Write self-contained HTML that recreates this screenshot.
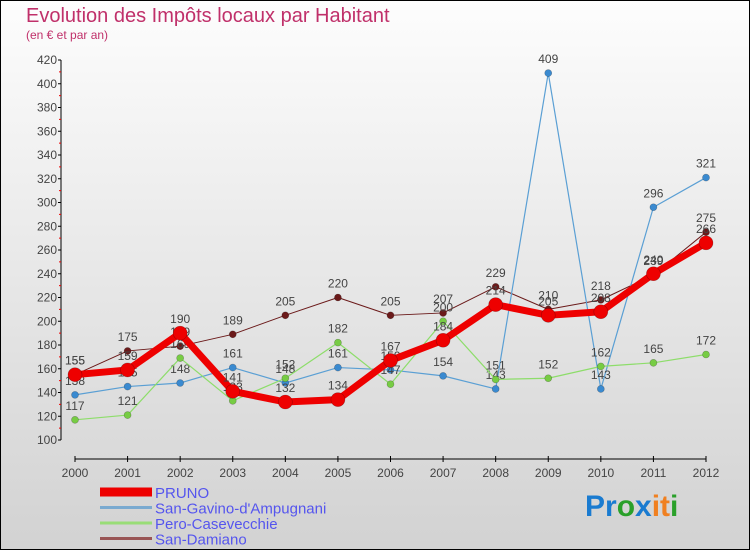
<!DOCTYPE html>
<html><head><meta charset="utf-8"><style>
html,body{margin:0;padding:0}
body{width:750px;height:550px;overflow:hidden;font-family:"Liberation Sans",sans-serif}
#wrap{position:relative;width:748px;height:548px;border:1px solid #000;background:linear-gradient(#fdfdfd,#d2d2d2)}
</style></head><body>
<div id="wrap">
<svg id="chart" width="748" height="548" viewBox="1 1 748 548" style="position:absolute;left:0;top:0">
<text x="26" y="22" font-size="20" fill="#c0306a">Evolution des Impôts locaux par Habitant</text>
<text x="26" y="39" font-size="12" fill="#c0306a">(en € et par an)</text>
<g id="axes"></g><g id="series"></g><g id="legend"></g>
<text x="585" y="516" font-size="30" font-weight="bold"><tspan fill="#1a7bd0">Pr</tspan><tspan fill="#2aa02a">o</tspan><tspan fill="#1a7bd0">x</tspan><tspan fill="#f08020">it</tspan><tspan fill="#2aa02a">i</tspan></text>
</svg>
</div>
<script>
const years=["2000","2001","2002","2003","2004","2005","2006","2007","2008","2009","2010","2011","2012"];
const yTicks=[100,120,140,160,180,200,220,240,260,280,300,320,340,360,380,400,420];
const pruno=[155,159,190,141,132,134,167,184,214,205,208,240,266];
const sanGavino=[138,145,148,161,148,161,159,154,143,409,143,296,321];
const peroCasevecchie=[117,121,169,133,152,182,147,200,151,152,162,165,172];
const sanDamiano=[155,175,179,189,205,220,205,207,229,210,218,239,275];
const NS="http://www.w3.org/2000/svg";
function X(i){return 75+i*(706-75)/12;}
function Y(v){return 440-(v-100)*380/320;}
function mk(tag,attrs,parent){const e=document.createElementNS(NS,tag);for(const k in attrs)e.setAttribute(k,attrs[k]);parent.appendChild(e);return e;}
const axes=document.getElementById('axes');
let a=mk('line',{x1:61,y1:Y(420),x2:61,y2:440,stroke:'#000'},axes);


yTicks.forEach(v=>{
 mk('line',{x1:58,y1:Y(v),x2:61,y2:Y(v),stroke:'#000'},axes);
 if(v<420){mk('line',{x1:59,y1:Y(v+10),x2:61,y2:Y(v+10),stroke:'#e00'},axes);}
 const t=mk('text',{x:57,y:Y(v)+4,'font-size':12,'text-anchor':'end',fill:'#444'},axes);
 t.textContent=v;
 
 
});
a=mk('line',{x1:75,y1:459,x2:706,y2:459,stroke:'#000'},axes);


years.forEach((y,i)=>{
 mk('line',{x1:X(i),y1:456,x2:X(i),y2:462,stroke:'#000'},axes);
 const t=mk('text',{x:X(i),y:477,'font-size':12,'text-anchor':'middle',fill:'#444'},axes);
 t.textContent=y;
 
 
});
const series=[
 {name:'San-Damiano',data:sanDamiano,color:'#6b1a1a',w:1,r:3.5,fill:'#6b1a1a'},
 {name:'San-Gavino-d\'Ampugnani',data:sanGavino,color:'#5a9fd4',w:1.2,r:3.5,fill:'#3a8ad0'},
 {name:'Pero-Casevecchie',data:peroCasevecchie,color:'#8ddd6a',w:1.2,r:3.5,fill:'#77cc44'},
 {name:'PRUNO',data:pruno,color:'#ee0000',w:7,r:7,fill:'#ee0000'}
];
const sg=document.getElementById('series');
series.forEach(s=>{
 const g=mk('g',{},sg);
 
 
 const p=mk('polyline',{points:s.data.map((v,i)=>X(i)+','+Y(v)).join(' '),fill:'none',stroke:s.color,'stroke-width':s.w,'stroke-linejoin':'round'},g);
 
 
 s.data.forEach((v,i)=>{
  const c=mk('circle',{cx:X(i),cy:Y(v),r:s.r,fill:s.fill,stroke:'rgba(0,0,0,0.3)','stroke-width':0.6},g);
  
  
  const t=mk('text',{x:X(i),y:Y(v)-10,'font-size':12,'text-anchor':'middle',fill:'#444'},g);
  t.textContent=v;
  
  
 });
});
const lg=document.getElementById('legend');
const leg=[['PRUNO','#ee0000',9],['San-Gavino-d\'Ampugnani','#7aaad0',3],['Pero-Casevecchie','#99dd77',3],['San-Damiano','#995555',3]];
leg.forEach((l,i)=>{
 const y=492+i*15.5;
 const g=mk('g',{},lg);
 
 
 mk('line',{x1:100,y1:y,x2:152,y2:y,stroke:l[1],'stroke-width':l[2]},g);
 const t=mk('text',{x:155,y:y+6,'font-size':15,fill:'#5555ee'},g);
 t.textContent=l[0];
});
</script>
</body></html>
